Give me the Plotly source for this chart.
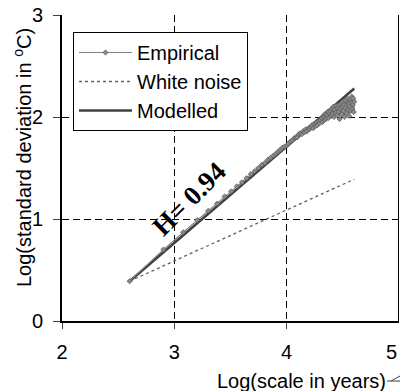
import plotly.graph_objects as go

# ---------------- data ----------------
scale_years = [400, 800, 1200, 1600, 2000, 2400, 2800, 3200, 3600, 4000,
               4400, 4800, 5200, 5600, 6000, 6400, 6800, 7200, 7600, 8000,
               8400, 8800, 9200, 9600, 10000, 10400, 10800, 11200, 11600, 12000,
               12400, 12800, 13200, 13600, 14000, 14400, 14800, 15200, 15600, 16000,
               16400, 16800, 17200, 17600, 18000, 18400, 18800, 19200, 19600, 20000,
               20400, 20800, 21200, 21600, 22000, 22400, 22800, 23200, 23600, 24000,
               24400, 24800, 25200, 25600, 26000, 26400, 26800, 27200, 27600, 28000,
               28400, 28800, 29200, 29600, 30000, 30400, 30800, 31200, 31600, 32000,
               32400, 32800, 33200, 33600, 34000, 34400, 34800, 35200, 35600, 36000,
               36400, 36800, 37200, 37600, 38000, 38400, 38800, 39200, 39600, 40000]

empirical_log_sd = [0.39, 0.70, 0.87, 0.99, 1.08, 1.15, 1.22, 1.27, 1.32, 1.36,
                    1.40, 1.44, 1.47, 1.50, 1.53, 1.55, 1.58, 1.60, 1.62, 1.64,
                    1.66, 1.68, 1.70, 1.71, 1.72, 1.74, 1.76, 1.77, 1.79, 1.80,
                    1.80, 1.83, 1.84, 1.83, 1.86, 1.85, 1.88, 1.86, 1.89, 1.88,
                    1.90, 1.92, 1.89, 1.93, 1.91, 1.95, 1.92, 1.96, 1.94, 1.97,
                    1.99, 1.95, 2.00, 1.97, 2.03, 1.98, 2.02, 2.05, 1.99, 2.04,
                    2.06, 2.01, 2.08, 2.03, 2.10, 2.00, 2.07, 2.04, 2.11, 2.02,
                    2.09, 2.05, 2.12, 1.98, 2.08, 2.13, 2.03, 2.10, 2.15, 2.06,
                    2.12, 2.00, 2.09, 2.16, 2.04, 2.11, 2.18, 2.07, 2.13, 2.01,
                    2.10, 2.17, 2.06, 2.14, 2.20, 2.08, 2.12, 2.18, 2.05, 2.15]

line_log_scale = [2.602, 4.602]
modelled_log_sd = [0.39, 2.28]
white_noise_log_sd = [0.39, 1.39]

x_ticks = [2, 3, 4]
y_ticks = [0, 1, 2, 3]
x_last_tick = 5

hurst_label = "H= 0.94"

# ---------------- figure ----------------
import math
log_scale = [math.log10(s) for s in scale_years]

FONT = "Liberation Sans, Arial, sans-serif"
FS = 20

fig = go.Figure()

fig.add_trace(go.Scatter(
    x=line_log_scale, y=white_noise_log_sd, mode="lines", name="White noise",
    line=dict(color="#606060", width=1.3, dash="dot"), legendrank=2))

fig.add_trace(go.Scatter(
    x=line_log_scale, y=modelled_log_sd, mode="lines", name="Modelled",
    line=dict(color="#404040", width=2.6), legendrank=3))

fig.add_trace(go.Scatter(
    x=log_scale, y=empirical_log_sd, mode="lines+markers", name="Empirical",
    line=dict(color="#808080", width=1.1),
    marker=dict(symbol="diamond", size=4, color="#8a8a8a",
                line=dict(color="#555555", width=0.7)),
    legendrank=1))

W, H = 400, 391
L, R, T, B = 62, 1, 15, 70
pw, ph = W - L - R, H - T - B

def px_x(p):
    return (p - L) / pw

def px_y(p):
    return (H - B - p) / ph

fig.update_layout(
    width=W, height=H,
    margin=dict(l=L, r=R, t=T, b=B, pad=0),
    paper_bgcolor="white", plot_bgcolor="white",
    font=dict(family=FONT, size=FS, color="black"),
    showlegend=True,
    legend=dict(x=px_x(73), y=px_y(32), xanchor="left", yanchor="top",
                bgcolor="white", bordercolor="black", borderwidth=1,
                font=dict(family=FONT, size=FS, color="black"),
                itemwidth=53, tracegroupgap=0),
    xaxis=dict(range=[2, 5], tickvals=x_ticks, showline=True, linecolor="black",
               linewidth=2, ticks="outside", ticklen=6, tickcolor="#404040",
               showgrid=True, gridcolor="black", gridwidth=1, griddash="7px,4px",
               zeroline=False, ticklabelstandoff=6,
               tickfont=dict(family=FONT, size=FS)),
    yaxis=dict(range=[0, 3], tickvals=y_ticks, showline=True, linecolor="black",
               linewidth=2, ticks="outside", ticklen=7, tickcolor="#404040",
               showgrid=True, gridcolor="black", gridwidth=1, griddash="7px,4px",
               zeroline=False, ticklabelstandoff=6,
               tickfont=dict(family=FONT, size=FS)),
)

# right border line
fig.add_shape(type="line", xref="x", yref="y", x0=5, x1=5, y0=0, y1=3,
              line=dict(color="black", width=2))

# last x tick label (at the page edge, kept fully visible)
fig.add_annotation(text=str(x_last_tick), xref="x", yref="paper",
                   x=x_last_tick, y=px_y(352), xanchor="right", yanchor="middle",
                   showarrow=False, font=dict(family=FONT, size=FS))

# axis titles
fig.add_annotation(text="Log(scale in years)", xref="paper", yref="paper",
                   x=px_x(301), y=px_y(381), xanchor="center", yanchor="middle",
                   showarrow=False, font=dict(family=FONT, size=FS))
fig.add_annotation(text="Log(standard deviation in <sup>o</sup>C)", xref="paper", yref="paper",
                   x=px_x(22), y=px_y(158), xanchor="center", yanchor="middle",
                   textangle=-90, showarrow=False, font=dict(family=FONT, size=FS))

# small leader mark next to x title
fig.add_shape(type="line", xref="paper", yref="paper",
              x0=px_x(387), x1=px_x(400), y0=px_y(381), y1=px_y(381),
              line=dict(color="#404040", width=1))
fig.add_shape(type="line", xref="paper", yref="paper",
              x0=px_x(391), x1=px_x(400), y0=px_y(381), y1=px_y(376),
              line=dict(color="#404040", width=1))

# Hurst label
fig.add_annotation(text="<b>" + hurst_label + "</b>", xref="x", yref="y",
                   x=2 + (189 - L) / (pw / 3), y=(H - B - 199) / (ph / 3),
                   textangle=-45, showarrow=False,
                   font=dict(family="Liberation Serif, Times New Roman, serif", size=27,
                             color="black"))

fig.write_html("out.html")
